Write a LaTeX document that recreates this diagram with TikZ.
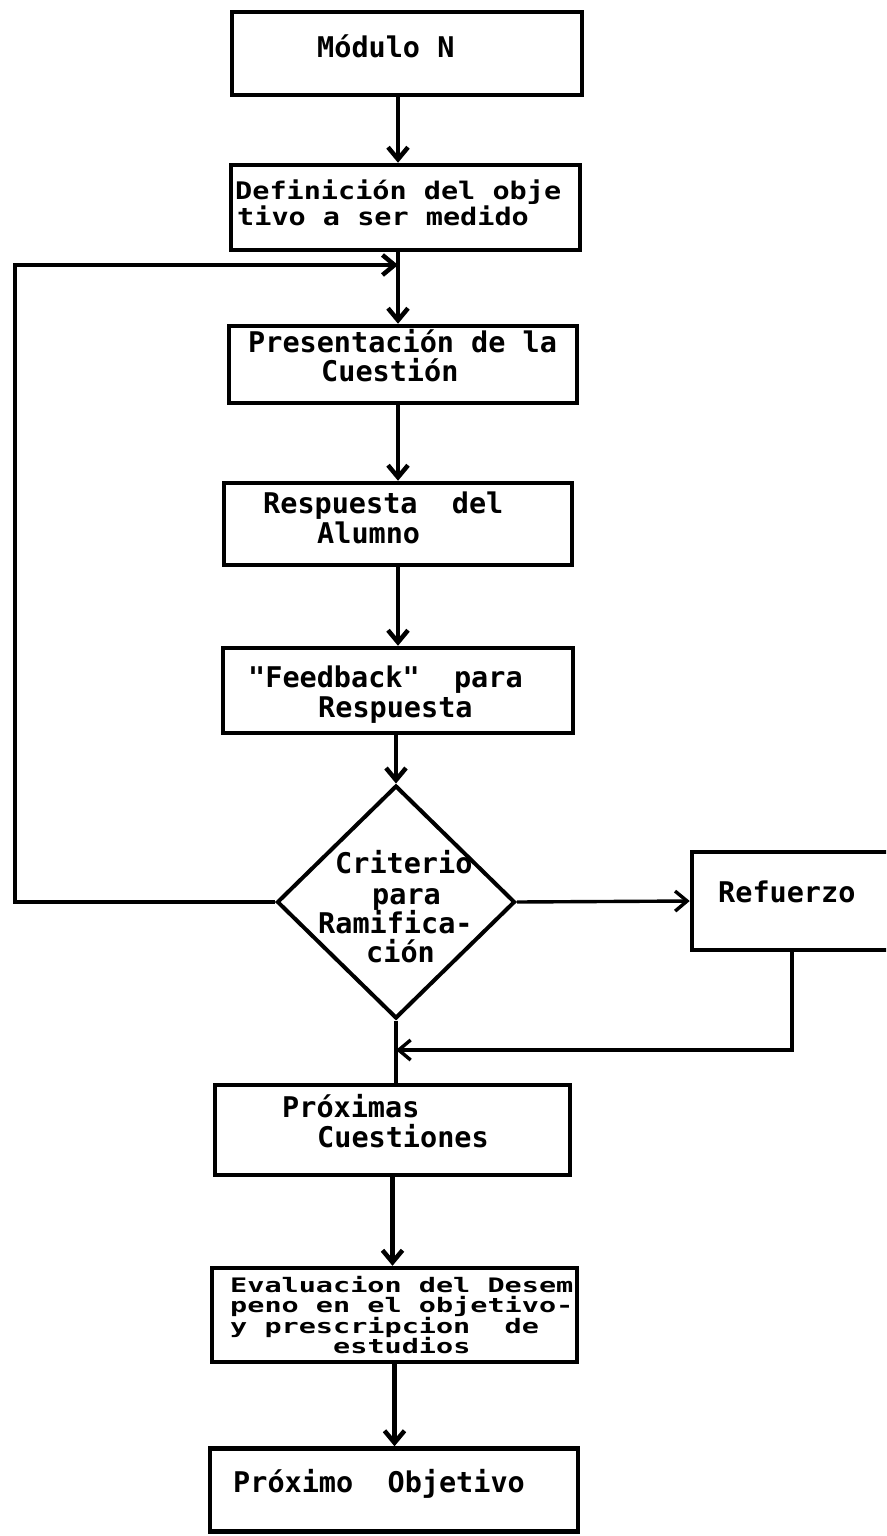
\documentclass[tikz,border=0pt]{standalone}
\usepackage{fontspec}
\usepackage{graphicx}
\newfontfamily\twfont{DejaVu Sans Mono}
\usetikzlibrary{arrows.meta,shapes.geometric}
\tikzset{
  box/.style={draw,line width=4.5pt,rectangle,inner sep=0pt},
  dia/.style={draw,line width=4pt,diamond,inner sep=0pt},
  conn/.style={line width=4.5pt},
  thinconn/.style={line width=3.4pt},
  arr/.style={conn,-{Straight Barb[length=12pt,width=20pt]}},
  thinarr/.style={thinconn,-{Straight Barb[length=12pt,width=20pt]}},
  lbl/.style={anchor=base west,inner sep=0pt,font=\twfont\bfseries\fontsize{28.5}{30}\selectfont}
}
\begin{document}
\begin{tikzpicture}[x=1pt,y=-1pt]
\clip (0,0) rectangle (886,1536);
\fill[white] (0,0) rectangle (886,1536);
% boxes
\node[box,minimum width=350pt,minimum height=83pt] (b1) at (407,53.5) {};
\node[box,minimum width=349pt,minimum height=85pt] (b2) at (405.5,207.5) {};
\node[box,minimum width=348pt,minimum height=77pt] (b3) at (403,364.5) {};
\node[box,minimum width=348pt,minimum height=82pt] (b4) at (398,524) {};
\node[box,minimum width=350pt,minimum height=85pt] (b5) at (398,690.5) {};
\node[dia,minimum width=238pt,minimum height=233pt] (d) at (396,902) {};
\node[box,minimum width=200pt,minimum height=98pt] (b9) at (792,901) {};
\node[box,minimum width=355pt,minimum height=90pt] (b6) at (392.5,1130) {};
\node[box,minimum width=365pt,minimum height=94pt] (b7) at (394.5,1315) {};
\node[box,minimum width=368pt,minimum height=83pt] (b8) at (394,1490) {};
% texts
\node[lbl] (t1) at (317,58) {Módulo N};
\node[lbl] (t2a) at (235,199) {\scalebox{1}[0.85]{Definición del obje}};
\node[lbl] (t2b) at (237,225) {\scalebox{1}[0.85]{tivo a ser medido}};
\node[lbl] (t3a) at (248,352) {Presentación de la};
\node[lbl] (t3b) at (321,381) {Cuestión};
\node[lbl] (t4a) at (263,513) {Respuesta\ \ del};
\node[lbl] (t4b) at (317,543) {Alumno};
\node[lbl] (t5a) at (248,687) {"Feedback"\ \ para};
\node[lbl] (t5b) at (318,717) {Respuesta};
\node[lbl] (td1) at (335,873) {Criterio};
\node[lbl] (td2) at (372,904) {para};
\node[lbl] (td3) at (318,933) {Ramifica-};
\node[lbl] (td4) at (366,962) {ción};
\node[lbl] (t9) at (718,902) {Refuerzo};
\node[lbl] (t6a) at (282,1117) {Próximas};
\node[lbl] (t6b) at (317,1147) {Cuestiones};
\node[lbl] (t7a) at (230,1292) {\scalebox{1}[0.7]{Evaluacion del Desem}};
\node[lbl] (t7b) at (230,1312.5) {\scalebox{1}[0.7]{peno en el objetivo-}};
\node[lbl] (t7c) at (230,1333) {\scalebox{1}[0.7]{y prescripcion\ \ de}};
\node[lbl] (t7d) at (333,1353.5) {\scalebox{1}[0.7]{estudios}};
\node[lbl] (t8) at (233,1492) {Próximo\ \ Objetivo};
% connectors
\coordinate (jn) at (398,265);
\coordinate (lt) at (15,265);
\coordinate (lb) at (15,902);
\coordinate (jr) at (396,1050);
\draw[arr] (b1.south -| jn) -- (b2.north -| jn);
\draw[conn] (b2.south -| jn) -- (jn);
\draw[arr] (jn) -- (b3.north -| jn);
\draw[conn,line join=miter] (d.west) -- (lb) -- (lt) -- (jn);
\draw[arr] (lt) -- (jn);
\draw[arr] (b3.south -| jn) -- (b4.north -| jn);
\draw[arr] (b4.south -| jn) -- (b5.north -| jn);
\draw[arr] (b5.south -| d.north) -- (d.north);
\draw[thinarr] (d.east) -- (b9.west);
\draw[conn] (d.south) -- (b6.north -| d.south);
\draw[thinconn,line join=miter] (b9.south) -- (b9.south |- jr) -- (jr);
\draw[thinarr] (b9.south |- jr) -- (jr);
\draw[arr] (b6.south) -- (b6.south |- b7.north);
\draw[arr] (b7.south) -- (b7.south |- b8.north);
\end{tikzpicture}
\end{document}
